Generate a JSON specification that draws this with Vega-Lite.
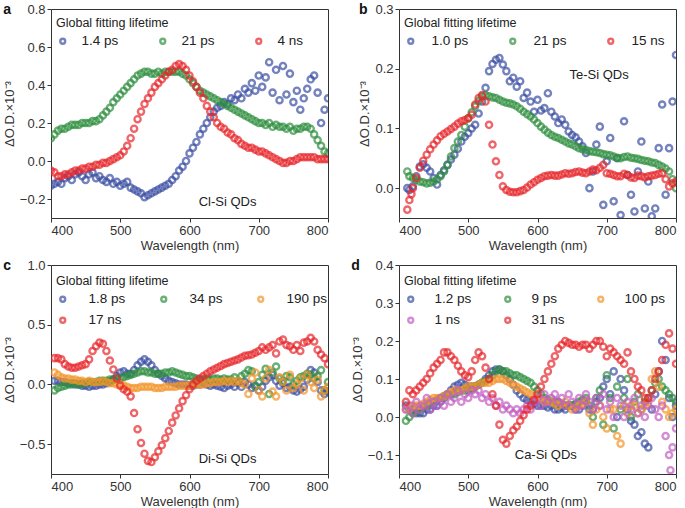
{
"$schema":"https://vega.github.io/schema/vega-lite/v6.json",
"background":"white",
"padding":{"left":2,"top":2,"right":12,"bottom":4},
"config":{
 "font":"Liberation Sans",
 "view":{"stroke":"#333","strokeWidth":1},
 "axis":{"grid":false,"domain":false,"tickColor":"#333","tickSize":4,"labelFontSize":13,"labelColor":"#333","labelPadding":2,"titleFontSize":13,"titleFontWeight":"normal","titleColor":"#333"},
 "axisY":{"titlePadding":3},
 "axisX":{"titlePadding":2},
 "legend":{"orient":"none","direction":"horizontal","columns":3,"titleFontSize":12.5,"titleFontWeight":"normal","titleColor":"#222","labelFontSize":13.5,"labelColor":"#222","symbolSize":24,"symbolStrokeWidth":2.4,"rowPadding":6,"titlePadding":5,"symbolType":"circle"},
 "title":{"fontSize":14,"fontWeight":"bold","anchor":"start","frame":"bounds","offset":-14,"color":"#111"},
 "point":{"filled":false,"strokeWidth":2.4,"size":38}
},
"datasets":{
"a1":[{"x":400,"y":-0.13},{"x":405,"y":-0.12},{"x":410,"y":-0.11},{"x":415,"y":-0.12},{"x":420,"y":-0.09},{"x":425,"y":-0.08},{"x":430,"y":-0.1},{"x":435,"y":-0.07},{"x":440,"y":-0.06},{"x":445,"y":-0.08},{"x":450,"y":-0.1},{"x":455,"y":-0.07},{"x":460,"y":-0.06},{"x":465,"y":-0.09},{"x":470,"y":-0.08},{"x":475,"y":-0.1},{"x":480,"y":-0.11},{"x":485,"y":-0.09},{"x":490,"y":-0.12},{"x":495,"y":-0.11},{"x":500,"y":-0.13},{"x":505,"y":-0.12},{"x":510,"y":-0.11},{"x":515,"y":-0.14},{"x":520,"y":-0.15},{"x":525,"y":-0.16},{"x":530,"y":-0.17},{"x":535,"y":-0.19},{"x":540,"y":-0.18},{"x":545,"y":-0.17},{"x":550,"y":-0.16},{"x":555,"y":-0.15},{"x":560,"y":-0.14},{"x":565,"y":-0.13},{"x":570,"y":-0.12},{"x":575,"y":-0.1},{"x":580,"y":-0.08},{"x":585,"y":-0.05},{"x":590,"y":-0.03},{"x":595,"y":0.0},{"x":600,"y":0.04},{"x":605,"y":0.07},{"x":610,"y":0.1},{"x":615,"y":0.14},{"x":620,"y":0.17},{"x":625,"y":0.2},{"x":630,"y":0.23},{"x":635,"y":0.26},{"x":640,"y":0.28},{"x":645,"y":0.29},{"x":650,"y":0.31},{"x":655,"y":0.3},{"x":660,"y":0.33},{"x":665,"y":0.32},{"x":670,"y":0.35},{"x":675,"y":0.33},{"x":680,"y":0.38},{"x":685,"y":0.36},{"x":690,"y":0.41},{"x":695,"y":0.37},{"x":700,"y":0.45},{"x":705,"y":0.39},{"x":710,"y":0.44},{"x":715,"y":0.52},{"x":720,"y":0.36},{"x":725,"y":0.48},{"x":730,"y":0.32},{"x":735,"y":0.5},{"x":740,"y":0.35},{"x":745,"y":0.46},{"x":750,"y":0.31},{"x":755,"y":0.37},{"x":760,"y":0.27},{"x":765,"y":0.33},{"x":770,"y":0.38},{"x":775,"y":0.43},{"x":780,"y":0.45},{"x":785,"y":0.36},{"x":790,"y":0.2},{"x":795,"y":0.27},{"x":800,"y":0.33}],
"a2":[{"x":400,"y":0.12},{"x":405,"y":0.14},{"x":410,"y":0.16},{"x":415,"y":0.17},{"x":420,"y":0.17},{"x":425,"y":0.18},{"x":430,"y":0.19},{"x":435,"y":0.19},{"x":440,"y":0.19},{"x":445,"y":0.2},{"x":450,"y":0.2},{"x":455,"y":0.2},{"x":460,"y":0.21},{"x":465,"y":0.21},{"x":470,"y":0.22},{"x":475,"y":0.24},{"x":480,"y":0.26},{"x":485,"y":0.28},{"x":490,"y":0.31},{"x":495,"y":0.33},{"x":500,"y":0.35},{"x":505,"y":0.37},{"x":510,"y":0.39},{"x":515,"y":0.41},{"x":520,"y":0.43},{"x":525,"y":0.45},{"x":530,"y":0.46},{"x":535,"y":0.47},{"x":540,"y":0.47},{"x":545,"y":0.46},{"x":550,"y":0.46},{"x":555,"y":0.47},{"x":560,"y":0.46},{"x":565,"y":0.47},{"x":570,"y":0.47},{"x":575,"y":0.47},{"x":580,"y":0.47},{"x":585,"y":0.47},{"x":590,"y":0.46},{"x":595,"y":0.45},{"x":600,"y":0.43},{"x":605,"y":0.41},{"x":610,"y":0.39},{"x":615,"y":0.37},{"x":620,"y":0.36},{"x":625,"y":0.35},{"x":630,"y":0.34},{"x":635,"y":0.33},{"x":640,"y":0.32},{"x":645,"y":0.31},{"x":650,"y":0.3},{"x":655,"y":0.29},{"x":660,"y":0.28},{"x":665,"y":0.27},{"x":670,"y":0.26},{"x":675,"y":0.25},{"x":680,"y":0.24},{"x":685,"y":0.23},{"x":690,"y":0.22},{"x":695,"y":0.21},{"x":700,"y":0.2},{"x":705,"y":0.2},{"x":710,"y":0.19},{"x":715,"y":0.2},{"x":720,"y":0.18},{"x":725,"y":0.19},{"x":730,"y":0.18},{"x":735,"y":0.18},{"x":740,"y":0.17},{"x":745,"y":0.18},{"x":750,"y":0.16},{"x":755,"y":0.17},{"x":760,"y":0.17},{"x":765,"y":0.18},{"x":770,"y":0.18},{"x":775,"y":0.17},{"x":780,"y":0.14},{"x":785,"y":0.11},{"x":790,"y":0.08},{"x":795,"y":0.05},{"x":800,"y":0.04}],
"a3":[{"x":400,"y":-0.05},{"x":405,"y":-0.06},{"x":410,"y":-0.08},{"x":415,"y":-0.08},{"x":420,"y":-0.07},{"x":425,"y":-0.07},{"x":430,"y":-0.06},{"x":435,"y":-0.05},{"x":440,"y":-0.05},{"x":445,"y":-0.04},{"x":450,"y":-0.04},{"x":455,"y":-0.03},{"x":460,"y":-0.03},{"x":465,"y":-0.02},{"x":470,"y":-0.02},{"x":475,"y":-0.01},{"x":480,"y":-0.01},{"x":485,"y":0.0},{"x":490,"y":0.01},{"x":495,"y":0.02},{"x":500,"y":0.03},{"x":505,"y":0.05},{"x":510,"y":0.08},{"x":515,"y":0.12},{"x":520,"y":0.17},{"x":525,"y":0.22},{"x":530,"y":0.26},{"x":535,"y":0.3},{"x":540,"y":0.33},{"x":545,"y":0.36},{"x":550,"y":0.39},{"x":555,"y":0.41},{"x":560,"y":0.43},{"x":565,"y":0.45},{"x":570,"y":0.47},{"x":575,"y":0.48},{"x":580,"y":0.5},{"x":585,"y":0.51},{"x":590,"y":0.5},{"x":595,"y":0.48},{"x":600,"y":0.45},{"x":605,"y":0.42},{"x":610,"y":0.39},{"x":615,"y":0.36},{"x":620,"y":0.33},{"x":625,"y":0.29},{"x":630,"y":0.26},{"x":635,"y":0.23},{"x":640,"y":0.2},{"x":645,"y":0.18},{"x":650,"y":0.17},{"x":655,"y":0.15},{"x":660,"y":0.14},{"x":665,"y":0.12},{"x":670,"y":0.11},{"x":675,"y":0.09},{"x":680,"y":0.08},{"x":685,"y":0.07},{"x":690,"y":0.07},{"x":695,"y":0.06},{"x":700,"y":0.05},{"x":705,"y":0.05},{"x":710,"y":0.04},{"x":715,"y":0.03},{"x":720,"y":0.02},{"x":725,"y":0.01},{"x":730,"y":0.0},{"x":735,"y":-0.01},{"x":740,"y":-0.01},{"x":745,"y":0.0},{"x":750,"y":0.0},{"x":755,"y":0.01},{"x":760,"y":0.02},{"x":765,"y":0.02},{"x":770,"y":0.02},{"x":775,"y":0.02},{"x":780,"y":0.02},{"x":785,"y":0.01},{"x":790,"y":0.01},{"x":795,"y":0.01},{"x":800,"y":0.01}],
"b1":[{"x":412,"y":0.0},{"x":415,"y":-0.003},{"x":420,"y":0.003},{"x":425,"y":0.02},{"x":430,"y":0.036},{"x":435,"y":0.04},{"x":440,"y":0.034},{"x":445,"y":0.028},{"x":450,"y":0.017},{"x":455,"y":0.006},{"x":460,"y":0.022},{"x":465,"y":0.03},{"x":470,"y":0.039},{"x":475,"y":0.048},{"x":480,"y":0.056},{"x":485,"y":0.066},{"x":490,"y":0.078},{"x":495,"y":0.086},{"x":500,"y":0.092},{"x":505,"y":0.1},{"x":510,"y":0.106},{"x":515,"y":0.125},{"x":520,"y":0.145},{"x":525,"y":0.168},{"x":530,"y":0.196},{"x":535,"y":0.208},{"x":540,"y":0.215},{"x":545,"y":0.218},{"x":550,"y":0.207},{"x":555,"y":0.196},{"x":560,"y":0.179},{"x":565,"y":0.185},{"x":570,"y":0.17},{"x":575,"y":0.179},{"x":580,"y":0.151},{"x":585,"y":0.16},{"x":590,"y":0.145},{"x":595,"y":0.128},{"x":600,"y":0.148},{"x":605,"y":0.13},{"x":610,"y":0.134},{"x":615,"y":0.159},{"x":620,"y":0.128},{"x":625,"y":0.12},{"x":630,"y":0.109},{"x":635,"y":0.115},{"x":640,"y":0.106},{"x":645,"y":0.095},{"x":650,"y":0.089},{"x":655,"y":0.085},{"x":660,"y":0.078},{"x":665,"y":0.07},{"x":670,"y":0.059},{"x":675,"y":0.0},{"x":680,"y":0.028},{"x":685,"y":0.073},{"x":690,"y":0.103},{"x":695,"y":-0.028},{"x":700,"y":0.045},{"x":705,"y":0.084},{"x":710,"y":-0.022},{"x":715,"y":0.05},{"x":720,"y":-0.045},{"x":725,"y":0.112},{"x":730,"y":0.022},{"x":735,"y":-0.011},{"x":740,"y":-0.039},{"x":745,"y":0.028},{"x":750,"y":0.078},{"x":755,"y":-0.034},{"x":760,"y":0.011},{"x":765,"y":-0.047},{"x":770,"y":-0.034},{"x":775,"y":0.067},{"x":780,"y":0.14},{"x":785,"y":-0.011},{"x":790,"y":0.067},{"x":795,"y":0.145},{"x":800,"y":0.223}],
"b2":[{"x":412,"y":0.028},{"x":415,"y":0.02},{"x":420,"y":0.017},{"x":425,"y":0.014},{"x":430,"y":0.011},{"x":435,"y":0.01},{"x":440,"y":0.008},{"x":445,"y":0.009},{"x":450,"y":0.011},{"x":455,"y":0.015},{"x":460,"y":0.02},{"x":465,"y":0.028},{"x":470,"y":0.039},{"x":475,"y":0.053},{"x":480,"y":0.067},{"x":485,"y":0.078},{"x":490,"y":0.089},{"x":495,"y":0.103},{"x":500,"y":0.117},{"x":505,"y":0.127},{"x":510,"y":0.137},{"x":515,"y":0.146},{"x":520,"y":0.154},{"x":525,"y":0.156},{"x":530,"y":0.154},{"x":535,"y":0.152},{"x":540,"y":0.151},{"x":545,"y":0.148},{"x":550,"y":0.145},{"x":555,"y":0.143},{"x":560,"y":0.142},{"x":565,"y":0.14},{"x":570,"y":0.137},{"x":575,"y":0.133},{"x":580,"y":0.128},{"x":585,"y":0.124},{"x":590,"y":0.12},{"x":595,"y":0.115},{"x":600,"y":0.109},{"x":605,"y":0.103},{"x":610,"y":0.098},{"x":615,"y":0.093},{"x":620,"y":0.089},{"x":625,"y":0.086},{"x":630,"y":0.084},{"x":635,"y":0.081},{"x":640,"y":0.078},{"x":645,"y":0.075},{"x":650,"y":0.073},{"x":655,"y":0.07},{"x":660,"y":0.067},{"x":665,"y":0.065},{"x":670,"y":0.064},{"x":675,"y":0.062},{"x":680,"y":0.061},{"x":685,"y":0.06},{"x":690,"y":0.059},{"x":695,"y":0.057},{"x":700,"y":0.056},{"x":705,"y":0.055},{"x":710,"y":0.053},{"x":715,"y":0.051},{"x":720,"y":0.05},{"x":725,"y":0.052},{"x":730,"y":0.053},{"x":735,"y":0.051},{"x":740,"y":0.05},{"x":745,"y":0.049},{"x":750,"y":0.047},{"x":755,"y":0.046},{"x":760,"y":0.045},{"x":765,"y":0.043},{"x":770,"y":0.042},{"x":775,"y":0.039},{"x":780,"y":0.036},{"x":785,"y":0.033},{"x":790,"y":0.028},{"x":795,"y":0.015},{"x":800,"y":0.0}],
"b3":[{"x":412,"y":-0.036},{"x":415,"y":-0.02},{"x":418,"y":-0.01},{"x":420,"y":0.0},{"x":425,"y":0.017},{"x":430,"y":0.034},{"x":435,"y":0.046},{"x":440,"y":0.056},{"x":445,"y":0.065},{"x":450,"y":0.073},{"x":455,"y":0.08},{"x":460,"y":0.087},{"x":465,"y":0.091},{"x":470,"y":0.095},{"x":475,"y":0.099},{"x":480,"y":0.103},{"x":485,"y":0.108},{"x":490,"y":0.112},{"x":495,"y":0.114},{"x":500,"y":0.117},{"x":505,"y":0.123},{"x":510,"y":0.14},{"x":515,"y":0.151},{"x":520,"y":0.156},{"x":525,"y":0.145},{"x":530,"y":0.106},{"x":535,"y":0.073},{"x":540,"y":0.045},{"x":545,"y":0.022},{"x":550,"y":0.003},{"x":555,"y":-0.003},{"x":560,"y":-0.006},{"x":565,"y":-0.007},{"x":570,"y":-0.007},{"x":575,"y":-0.005},{"x":580,"y":-0.003},{"x":585,"y":0.001},{"x":590,"y":0.006},{"x":595,"y":0.01},{"x":600,"y":0.014},{"x":605,"y":0.017},{"x":610,"y":0.02},{"x":615,"y":0.021},{"x":620,"y":0.022},{"x":625,"y":0.021},{"x":630,"y":0.021},{"x":635,"y":0.023},{"x":640,"y":0.025},{"x":645,"y":0.024},{"x":650,"y":0.025},{"x":655,"y":0.027},{"x":660,"y":0.028},{"x":665,"y":0.026},{"x":670,"y":0.025},{"x":675,"y":0.028},{"x":680,"y":0.031},{"x":685,"y":0.03},{"x":690,"y":0.034},{"x":695,"y":0.039},{"x":700,"y":0.025},{"x":705,"y":0.024},{"x":710,"y":0.022},{"x":715,"y":0.02},{"x":720,"y":0.02},{"x":725,"y":0.024},{"x":730,"y":0.022},{"x":735,"y":0.018},{"x":740,"y":0.017},{"x":745,"y":0.021},{"x":750,"y":0.02},{"x":755,"y":0.018},{"x":760,"y":0.02},{"x":765,"y":0.021},{"x":770,"y":0.022},{"x":775,"y":0.024},{"x":780,"y":0.025},{"x":785,"y":0.015},{"x":790,"y":0.003},{"x":795,"y":0.008},{"x":800,"y":0.011}],
"c1":[{"x":405,"y":0.03},{"x":410,"y":0.03},{"x":415,"y":0.02},{"x":420,"y":0.02},{"x":425,"y":0.01},{"x":430,"y":0.01},{"x":435,"y":0.0},{"x":440,"y":0.0},{"x":445,"y":-0.01},{"x":450,"y":-0.01},{"x":455,"y":-0.02},{"x":460,"y":-0.01},{"x":465,"y":-0.01},{"x":470,"y":0.0},{"x":475,"y":0.0},{"x":480,"y":0.01},{"x":485,"y":0.02},{"x":490,"y":0.04},{"x":495,"y":0.07},{"x":500,"y":0.1},{"x":505,"y":0.11},{"x":510,"y":0.09},{"x":515,"y":0.09},{"x":520,"y":0.12},{"x":525,"y":0.16},{"x":530,"y":0.19},{"x":535,"y":0.21},{"x":540,"y":0.19},{"x":545,"y":0.16},{"x":550,"y":0.12},{"x":555,"y":0.09},{"x":560,"y":0.07},{"x":565,"y":0.05},{"x":570,"y":0.03},{"x":575,"y":0.02},{"x":580,"y":0.01},{"x":585,"y":0.0},{"x":590,"y":0.0},{"x":595,"y":0.0},{"x":600,"y":-0.01},{"x":605,"y":-0.01},{"x":610,"y":0.0},{"x":615,"y":0.0},{"x":620,"y":0.01},{"x":625,"y":0.0},{"x":630,"y":-0.01},{"x":635,"y":0.0},{"x":640,"y":-0.01},{"x":645,"y":-0.02},{"x":650,"y":-0.03},{"x":655,"y":-0.01},{"x":660,"y":0.0},{"x":665,"y":-0.02},{"x":670,"y":0.01},{"x":675,"y":-0.02},{"x":680,"y":0.02},{"x":685,"y":0.0},{"x":690,"y":-0.03},{"x":695,"y":-0.01},{"x":700,"y":-0.05},{"x":705,"y":-0.02},{"x":710,"y":0.03},{"x":715,"y":0.06},{"x":720,"y":0.08},{"x":725,"y":0.03},{"x":730,"y":-0.01},{"x":735,"y":0.01},{"x":740,"y":-0.03},{"x":745,"y":-0.02},{"x":750,"y":-0.05},{"x":755,"y":-0.06},{"x":760,"y":-0.04},{"x":765,"y":-0.02},{"x":770,"y":0.04},{"x":775,"y":0.12},{"x":780,"y":0.1},{"x":785,"y":0.02},{"x":790,"y":-0.05},{"x":795,"y":-0.08},{"x":800,"y":-0.06}],
"c2":[{"x":405,"y":-0.05},{"x":410,"y":-0.03},{"x":415,"y":-0.02},{"x":420,"y":-0.01},{"x":425,"y":0.0},{"x":430,"y":0.0},{"x":435,"y":0.01},{"x":440,"y":0.0},{"x":445,"y":0.01},{"x":450,"y":0.01},{"x":455,"y":0.02},{"x":460,"y":0.02},{"x":465,"y":0.02},{"x":470,"y":0.03},{"x":475,"y":0.03},{"x":480,"y":0.03},{"x":485,"y":0.04},{"x":490,"y":0.04},{"x":495,"y":0.05},{"x":500,"y":0.05},{"x":505,"y":0.06},{"x":510,"y":0.07},{"x":515,"y":0.08},{"x":520,"y":0.09},{"x":525,"y":0.1},{"x":530,"y":0.11},{"x":535,"y":0.11},{"x":540,"y":0.1},{"x":545,"y":0.1},{"x":550,"y":0.09},{"x":555,"y":0.09},{"x":560,"y":0.09},{"x":565,"y":0.1},{"x":570,"y":0.1},{"x":575,"y":0.11},{"x":580,"y":0.1},{"x":585,"y":0.09},{"x":590,"y":0.08},{"x":595,"y":0.07},{"x":600,"y":0.07},{"x":605,"y":0.06},{"x":610,"y":0.05},{"x":615,"y":0.04},{"x":620,"y":0.04},{"x":625,"y":0.05},{"x":630,"y":0.04},{"x":635,"y":0.05},{"x":640,"y":0.05},{"x":645,"y":0.04},{"x":650,"y":0.05},{"x":655,"y":0.04},{"x":660,"y":0.04},{"x":665,"y":0.06},{"x":670,"y":0.03},{"x":675,"y":0.07},{"x":680,"y":0.09},{"x":685,"y":0.12},{"x":690,"y":0.11},{"x":695,"y":-0.02},{"x":700,"y":0.02},{"x":705,"y":0.08},{"x":710,"y":0.13},{"x":715,"y":-0.08},{"x":720,"y":0.1},{"x":725,"y":0.15},{"x":730,"y":0.05},{"x":735,"y":0.03},{"x":740,"y":0.07},{"x":745,"y":0.06},{"x":750,"y":0.0},{"x":755,"y":0.03},{"x":760,"y":0.06},{"x":765,"y":0.07},{"x":770,"y":0.09},{"x":775,"y":0.08},{"x":780,"y":0.05},{"x":785,"y":0.07},{"x":790,"y":0.12},{"x":795,"y":-0.05},{"x":800,"y":0.02}],
"c3":[{"x":405,"y":0.1},{"x":410,"y":0.08},{"x":415,"y":0.06},{"x":420,"y":0.05},{"x":425,"y":0.05},{"x":430,"y":0.04},{"x":435,"y":0.04},{"x":440,"y":0.03},{"x":445,"y":0.03},{"x":450,"y":0.02},{"x":455,"y":0.03},{"x":460,"y":0.02},{"x":465,"y":0.02},{"x":470,"y":0.02},{"x":475,"y":0.03},{"x":480,"y":0.02},{"x":485,"y":0.01},{"x":490,"y":0.01},{"x":495,"y":0.0},{"x":500,"y":0.0},{"x":505,"y":-0.01},{"x":510,"y":-0.02},{"x":515,"y":-0.03},{"x":520,"y":-0.03},{"x":525,"y":-0.03},{"x":530,"y":-0.02},{"x":535,"y":-0.02},{"x":540,"y":-0.02},{"x":545,"y":-0.02},{"x":550,"y":-0.03},{"x":555,"y":-0.03},{"x":560,"y":-0.03},{"x":565,"y":-0.02},{"x":570,"y":-0.02},{"x":575,"y":-0.02},{"x":580,"y":-0.02},{"x":585,"y":-0.01},{"x":590,"y":-0.01},{"x":595,"y":-0.01},{"x":600,"y":-0.01},{"x":605,"y":0.0},{"x":610,"y":0.0},{"x":615,"y":0.0},{"x":620,"y":0.0},{"x":625,"y":0.01},{"x":630,"y":0.01},{"x":635,"y":0.02},{"x":640,"y":0.02},{"x":645,"y":0.02},{"x":650,"y":0.03},{"x":655,"y":0.02},{"x":660,"y":0.03},{"x":665,"y":0.02},{"x":670,"y":0.03},{"x":675,"y":0.01},{"x":680,"y":0.0},{"x":685,"y":-0.08},{"x":690,"y":0.05},{"x":695,"y":0.1},{"x":700,"y":-0.05},{"x":705,"y":-0.1},{"x":710,"y":0.05},{"x":715,"y":0.12},{"x":720,"y":-0.06},{"x":725,"y":-0.1},{"x":730,"y":0.06},{"x":735,"y":0.02},{"x":740,"y":-0.05},{"x":745,"y":0.08},{"x":750,"y":-0.03},{"x":755,"y":0.0},{"x":760,"y":0.05},{"x":765,"y":-0.05},{"x":770,"y":0.08},{"x":775,"y":0.02},{"x":780,"y":-0.03},{"x":785,"y":0.04},{"x":790,"y":-0.1},{"x":795,"y":-0.05},{"x":800,"y":-0.02}],
"c4":[{"x":405,"y":0.22},{"x":410,"y":0.22},{"x":415,"y":0.21},{"x":420,"y":0.17},{"x":425,"y":0.15},{"x":430,"y":0.14},{"x":435,"y":0.14},{"x":440,"y":0.15},{"x":445,"y":0.16},{"x":450,"y":0.17},{"x":455,"y":0.21},{"x":460,"y":0.28},{"x":465,"y":0.32},{"x":470,"y":0.35},{"x":475,"y":0.34},{"x":480,"y":0.28},{"x":485,"y":0.2},{"x":490,"y":0.125},{"x":495,"y":0.05},{"x":500,"y":-0.01},{"x":505,"y":-0.04},{"x":510,"y":-0.06},{"x":515,"y":-0.1},{"x":520,"y":-0.24},{"x":525,"y":-0.375},{"x":530,"y":-0.49},{"x":535,"y":-0.58},{"x":540,"y":-0.64},{"x":545,"y":-0.65},{"x":550,"y":-0.61},{"x":555,"y":-0.56},{"x":560,"y":-0.51},{"x":565,"y":-0.45},{"x":570,"y":-0.39},{"x":575,"y":-0.32},{"x":580,"y":-0.26},{"x":585,"y":-0.2},{"x":590,"y":-0.14},{"x":595,"y":-0.09},{"x":600,"y":-0.04},{"x":605,"y":0.0},{"x":610,"y":0.03},{"x":615,"y":0.05},{"x":620,"y":0.07},{"x":625,"y":0.09},{"x":630,"y":0.11},{"x":635,"y":0.125},{"x":640,"y":0.14},{"x":645,"y":0.155},{"x":650,"y":0.17},{"x":655,"y":0.18},{"x":660,"y":0.19},{"x":665,"y":0.2},{"x":670,"y":0.21},{"x":675,"y":0.225},{"x":680,"y":0.24},{"x":685,"y":0.245},{"x":690,"y":0.25},{"x":695,"y":0.265},{"x":700,"y":0.28},{"x":705,"y":0.31},{"x":710,"y":0.29},{"x":715,"y":0.31},{"x":720,"y":0.33},{"x":725,"y":0.26},{"x":730,"y":0.36},{"x":735,"y":0.375},{"x":740,"y":0.33},{"x":745,"y":0.32},{"x":750,"y":0.29},{"x":755,"y":0.33},{"x":760,"y":0.28},{"x":765,"y":0.35},{"x":770,"y":0.36},{"x":775,"y":0.39},{"x":780,"y":0.36},{"x":785,"y":0.29},{"x":790,"y":0.25},{"x":795,"y":0.22},{"x":800,"y":0.17}],
"d1":[{"x":410,"y":0.03},{"x":415,"y":0.02},{"x":420,"y":0.02},{"x":425,"y":0.01},{"x":430,"y":0.01},{"x":435,"y":0.01},{"x":440,"y":0.02},{"x":445,"y":0.02},{"x":450,"y":0.03},{"x":455,"y":0.03},{"x":460,"y":0.04},{"x":465,"y":0.05},{"x":470,"y":0.06},{"x":475,"y":0.07},{"x":480,"y":0.08},{"x":485,"y":0.085},{"x":490,"y":0.09},{"x":495,"y":0.085},{"x":500,"y":0.08},{"x":505,"y":0.08},{"x":510,"y":0.08},{"x":515,"y":0.085},{"x":520,"y":0.09},{"x":525,"y":0.1},{"x":530,"y":0.11},{"x":535,"y":0.12},{"x":540,"y":0.125},{"x":545,"y":0.125},{"x":550,"y":0.12},{"x":555,"y":0.11},{"x":560,"y":0.1},{"x":565,"y":0.085},{"x":570,"y":0.07},{"x":575,"y":0.06},{"x":580,"y":0.05},{"x":585,"y":0.045},{"x":590,"y":0.04},{"x":595,"y":0.035},{"x":600,"y":0.03},{"x":605,"y":0.03},{"x":610,"y":0.03},{"x":615,"y":0.025},{"x":620,"y":0.03},{"x":625,"y":0.02},{"x":630,"y":0.02},{"x":635,"y":0.025},{"x":640,"y":0.02},{"x":645,"y":0.03},{"x":650,"y":0.03},{"x":655,"y":0.02},{"x":660,"y":0.02},{"x":665,"y":0.03},{"x":670,"y":0.04},{"x":675,"y":0.02},{"x":680,"y":0.02},{"x":685,"y":0.04},{"x":690,"y":0.05},{"x":695,"y":0.08},{"x":700,"y":0.1},{"x":705,"y":0.06},{"x":710,"y":0.12},{"x":715,"y":0.0},{"x":720,"y":0.1},{"x":725,"y":0.07},{"x":730,"y":0.02},{"x":735,"y":-0.01},{"x":740,"y":-0.02},{"x":745,"y":-0.05},{"x":750,"y":-0.04},{"x":755,"y":-0.07},{"x":760,"y":-0.08},{"x":765,"y":0.02},{"x":770,"y":0.06},{"x":775,"y":0.12},{"x":780,"y":0.2},{"x":785,"y":0.15},{"x":790,"y":0.05},{"x":795,"y":0.0},{"x":800,"y":0.03}],
"d2":[{"x":410,"y":-0.01},{"x":415,"y":0.0},{"x":420,"y":0.01},{"x":425,"y":0.015},{"x":430,"y":0.02},{"x":435,"y":0.025},{"x":440,"y":0.03},{"x":445,"y":0.035},{"x":450,"y":0.04},{"x":455,"y":0.045},{"x":460,"y":0.05},{"x":465,"y":0.055},{"x":470,"y":0.06},{"x":475,"y":0.06},{"x":480,"y":0.06},{"x":485,"y":0.065},{"x":490,"y":0.07},{"x":495,"y":0.07},{"x":500,"y":0.07},{"x":505,"y":0.075},{"x":510,"y":0.08},{"x":515,"y":0.085},{"x":520,"y":0.09},{"x":525,"y":0.095},{"x":530,"y":0.1},{"x":535,"y":0.11},{"x":540,"y":0.12},{"x":545,"y":0.125},{"x":550,"y":0.12},{"x":555,"y":0.12},{"x":560,"y":0.115},{"x":565,"y":0.11},{"x":570,"y":0.11},{"x":575,"y":0.105},{"x":580,"y":0.1},{"x":585,"y":0.095},{"x":590,"y":0.09},{"x":595,"y":0.08},{"x":600,"y":0.07},{"x":605,"y":0.06},{"x":610,"y":0.05},{"x":615,"y":0.045},{"x":620,"y":0.04},{"x":625,"y":0.04},{"x":630,"y":0.04},{"x":635,"y":0.035},{"x":640,"y":0.03},{"x":645,"y":0.03},{"x":650,"y":0.03},{"x":655,"y":0.035},{"x":660,"y":0.04},{"x":665,"y":0.045},{"x":670,"y":0.05},{"x":675,"y":0.03},{"x":680,"y":0.0},{"x":685,"y":0.05},{"x":690,"y":0.07},{"x":695,"y":-0.02},{"x":700,"y":0.11},{"x":705,"y":0.05},{"x":710,"y":-0.03},{"x":715,"y":0.08},{"x":720,"y":0.02},{"x":725,"y":0.05},{"x":730,"y":0.1},{"x":735,"y":0.0},{"x":740,"y":0.04},{"x":745,"y":0.06},{"x":750,"y":0.02},{"x":755,"y":0.04},{"x":760,"y":0.05},{"x":765,"y":0.07},{"x":770,"y":0.09},{"x":775,"y":0.1},{"x":780,"y":0.08},{"x":785,"y":0.07},{"x":790,"y":0.06},{"x":795,"y":0.05},{"x":800,"y":0.04}],
"d3":[{"x":410,"y":0.02},{"x":415,"y":0.02},{"x":420,"y":0.03},{"x":425,"y":0.03},{"x":430,"y":0.03},{"x":435,"y":0.035},{"x":440,"y":0.04},{"x":445,"y":0.045},{"x":450,"y":0.05},{"x":455,"y":0.05},{"x":460,"y":0.05},{"x":465,"y":0.055},{"x":470,"y":0.06},{"x":475,"y":0.065},{"x":480,"y":0.07},{"x":485,"y":0.07},{"x":490,"y":0.07},{"x":495,"y":0.075},{"x":500,"y":0.08},{"x":505,"y":0.08},{"x":510,"y":0.08},{"x":515,"y":0.085},{"x":520,"y":0.09},{"x":525,"y":0.09},{"x":530,"y":0.09},{"x":535,"y":0.095},{"x":540,"y":0.1},{"x":545,"y":0.1},{"x":550,"y":0.1},{"x":555,"y":0.095},{"x":560,"y":0.09},{"x":565,"y":0.085},{"x":570,"y":0.08},{"x":575,"y":0.075},{"x":580,"y":0.07},{"x":585,"y":0.065},{"x":590,"y":0.06},{"x":595,"y":0.055},{"x":600,"y":0.05},{"x":605,"y":0.045},{"x":610,"y":0.04},{"x":615,"y":0.04},{"x":620,"y":0.04},{"x":625,"y":0.035},{"x":630,"y":0.03},{"x":635,"y":0.035},{"x":640,"y":0.04},{"x":645,"y":0.03},{"x":650,"y":0.02},{"x":655,"y":0.025},{"x":660,"y":0.03},{"x":665,"y":0.035},{"x":670,"y":0.04},{"x":675,"y":0.01},{"x":680,"y":-0.02},{"x":685,"y":0.02},{"x":690,"y":0.03},{"x":695,"y":0.0},{"x":700,"y":-0.03},{"x":705,"y":0.02},{"x":710,"y":0.02},{"x":715,"y":-0.05},{"x":720,"y":-0.07},{"x":725,"y":0.03},{"x":730,"y":0.01},{"x":735,"y":0.03},{"x":740,"y":0.03},{"x":745,"y":0.01},{"x":750,"y":0.02},{"x":755,"y":0.03},{"x":760,"y":0.04},{"x":765,"y":0.1},{"x":770,"y":0.12},{"x":775,"y":0.08},{"x":780,"y":0.04},{"x":785,"y":0.02},{"x":790,"y":0.0},{"x":795,"y":0.01},{"x":800,"y":0.02}],
"d4":[{"x":410,"y":0.02},{"x":415,"y":0.03},{"x":420,"y":0.01},{"x":425,"y":0.04},{"x":430,"y":0.02},{"x":435,"y":0.03},{"x":440,"y":0.05},{"x":445,"y":0.02},{"x":450,"y":0.04},{"x":455,"y":0.03},{"x":460,"y":0.05},{"x":465,"y":0.03},{"x":470,"y":0.06},{"x":475,"y":0.04},{"x":480,"y":0.05},{"x":485,"y":0.07},{"x":490,"y":0.04},{"x":495,"y":0.06},{"x":500,"y":0.05},{"x":505,"y":0.07},{"x":510,"y":0.06},{"x":515,"y":0.07},{"x":520,"y":0.05},{"x":525,"y":0.06},{"x":530,"y":0.04},{"x":535,"y":0.05},{"x":540,"y":0.03},{"x":545,"y":0.04},{"x":550,"y":0.02},{"x":555,"y":0.03},{"x":560,"y":0.02},{"x":565,"y":0.01},{"x":570,"y":0.02},{"x":575,"y":0.01},{"x":580,"y":0.02},{"x":585,"y":0.03},{"x":590,"y":0.02},{"x":595,"y":0.04},{"x":600,"y":0.05},{"x":605,"y":0.03},{"x":610,"y":0.06},{"x":615,"y":0.04},{"x":620,"y":0.05},{"x":625,"y":0.06},{"x":630,"y":0.04},{"x":635,"y":0.05},{"x":640,"y":0.03},{"x":645,"y":0.06},{"x":650,"y":0.04},{"x":655,"y":0.02},{"x":660,"y":0.05},{"x":665,"y":0.03},{"x":670,"y":0.06},{"x":675,"y":0.04},{"x":680,"y":0.02},{"x":685,"y":0.05},{"x":690,"y":0.03},{"x":695,"y":0.06},{"x":700,"y":0.02},{"x":705,"y":0.04},{"x":710,"y":0.0},{"x":715,"y":0.05},{"x":720,"y":0.03},{"x":725,"y":0.0},{"x":730,"y":0.04},{"x":735,"y":0.02},{"x":740,"y":0.05},{"x":745,"y":0.01},{"x":750,"y":0.03},{"x":755,"y":0.0},{"x":760,"y":0.03},{"x":765,"y":0.05},{"x":770,"y":0.02},{"x":775,"y":0.0},{"x":780,"y":0.03},{"x":785,"y":-0.05},{"x":790,"y":-0.1},{"x":792,"y":-0.14},{"x":795,"y":-0.08},{"x":800,"y":-0.03}],
"d5":[{"x":410,"y":0.04},{"x":415,"y":0.07},{"x":420,"y":0.06},{"x":425,"y":0.07},{"x":430,"y":0.08},{"x":435,"y":0.09},{"x":440,"y":0.1},{"x":445,"y":0.115},{"x":450,"y":0.13},{"x":455,"y":0.14},{"x":460,"y":0.15},{"x":465,"y":0.17},{"x":470,"y":0.17},{"x":475,"y":0.16},{"x":480,"y":0.15},{"x":485,"y":0.135},{"x":490,"y":0.12},{"x":495,"y":0.11},{"x":500,"y":0.105},{"x":505,"y":0.12},{"x":510,"y":0.15},{"x":515,"y":0.17},{"x":520,"y":0.16},{"x":525,"y":0.13},{"x":530,"y":0.1},{"x":535,"y":0.06},{"x":540,"y":0.03},{"x":545,"y":-0.02},{"x":550,"y":-0.06},{"x":555,"y":-0.07},{"x":560,"y":-0.05},{"x":565,"y":-0.035},{"x":570,"y":-0.025},{"x":575,"y":-0.01},{"x":580,"y":0.005},{"x":585,"y":0.02},{"x":590,"y":0.03},{"x":595,"y":0.045},{"x":600,"y":0.06},{"x":605,"y":0.08},{"x":610,"y":0.1},{"x":615,"y":0.12},{"x":620,"y":0.14},{"x":625,"y":0.16},{"x":630,"y":0.18},{"x":635,"y":0.19},{"x":640,"y":0.2},{"x":645,"y":0.195},{"x":650,"y":0.19},{"x":655,"y":0.19},{"x":660,"y":0.185},{"x":665,"y":0.19},{"x":670,"y":0.19},{"x":675,"y":0.18},{"x":680,"y":0.19},{"x":685,"y":0.2},{"x":690,"y":0.2},{"x":695,"y":0.185},{"x":700,"y":0.16},{"x":705,"y":0.18},{"x":710,"y":0.17},{"x":715,"y":0.16},{"x":720,"y":0.15},{"x":725,"y":0.14},{"x":730,"y":0.17},{"x":735,"y":0.12},{"x":740,"y":0.1},{"x":745,"y":0.08},{"x":750,"y":0.07},{"x":755,"y":0.05},{"x":760,"y":0.05},{"x":765,"y":0.07},{"x":770,"y":0.1},{"x":775,"y":0.12},{"x":780,"y":0.15},{"x":785,"y":0.19},{"x":790,"y":0.22},{"x":795,"y":0.18},{"x":800,"y":0.14}]
},
"columns":2,
"spacing":{"row":47,"column":71},
"bounds":"flush",
"resolve":{"scale":{"x":"independent","y":"independent","color":"independent"},"axis":{"x":"independent","y":"independent"},"legend":{"color":"independent"}},
"concat":[
{"width":277,"height":209,"title":{"text":"a"},
 "encoding":{"x":{"field":"x","type":"quantitative","scale":{"domain":[400,800]},"axis":{"values":[400,500,600,700,800],"title":"Wavelength (nm)"}},"y":{"field":"y","type":"quantitative","scale":{"domain":[-0.3,0.8]},"axis":{"values":[-0.2,0,0.2,0.4,0.6,0.8],"format":".1f","title":"ΔO.D.×10⁻³"}}},
 "layer":[
  {"data":{"name":"a1"},"mark":{"type":"point","clip":true},"encoding":{"color":{"datum":"1.4 ps","type":"nominal","scale":{"domain":["1.4 ps","21 ps","4 ns"],"range":["#3a4ea3","#2f8f3f","#e8262a"]},"legend":{"title":"Global fitting lifetime","legendX":5,"legendY":8,"labelOffset":12,"columnPadding":36}}}},
  {"data":{"name":"a2"},"mark":{"type":"point","clip":true},"encoding":{"color":{"datum":"21 ps","type":"nominal"}}},
  {"data":{"name":"a3"},"mark":{"type":"point","clip":true},"encoding":{"color":{"datum":"4 ns","type":"nominal"}}},
  {"data":{"values":[{"x":655,"y":-0.215,"t":"Cl-Si QDs"}]},"mark":{"type":"text","fontSize":13,"color":"#222"},"encoding":{"text":{"field":"t"}}}
 ]},
{"width":277,"height":209,"title":{"text":"b"},
 "encoding":{"x":{"field":"x","type":"quantitative","scale":{"domain":[400,800]},"axis":{"values":[400,500,600,700,800],"title":"Wavelength (nm)"}},"y":{"field":"y","type":"quantitative","scale":{"domain":[-0.05,0.3]},"axis":{"values":[0,0.1,0.2,0.3],"format":".1f","title":"ΔO.D.×10⁻³"}}},
 "layer":[
  {"data":{"name":"b1"},"mark":{"type":"point","clip":true},"encoding":{"color":{"datum":"1.0 ps","type":"nominal","scale":{"domain":["1.0 ps","21 ps","15 ns"],"range":["#3a4ea3","#2f8f3f","#e8262a"]},"legend":{"title":"Global fitting lifetime","legendX":5,"legendY":8,"labelOffset":14,"columnPadding":36}}}},
  {"data":{"name":"b2"},"mark":{"type":"point","clip":true},"encoding":{"color":{"datum":"21 ps","type":"nominal"}}},
  {"data":{"name":"b3"},"mark":{"type":"point","clip":true},"encoding":{"color":{"datum":"15 ns","type":"nominal"}}},
  {"data":{"values":[{"x":689,"y":0.19,"t":"Te-Si QDs"}]},"mark":{"type":"text","fontSize":13,"color":"#222"},"encoding":{"text":{"field":"t"}}}
 ]},
{"width":277,"height":209,"title":{"text":"c"},
 "encoding":{"x":{"field":"x","type":"quantitative","scale":{"domain":[400,800]},"axis":{"values":[400,500,600,700,800],"title":"Wavelength (nm)"}},"y":{"field":"y","type":"quantitative","scale":{"domain":[-0.75,1.0]},"axis":{"values":[-0.5,0,0.5,1.0],"format":".1f","title":"ΔO.D.×10⁻³"}}},
 "layer":[
  {"data":{"name":"c1"},"mark":{"type":"point","clip":true},"encoding":{"color":{"datum":"1.8 ps","type":"nominal","scale":{"domain":["1.8 ps","34 ps","190 ps","17 ns"],"range":["#3a4ea3","#2f8f3f","#f4952a","#e8262a"]},"legend":{"title":"Global fitting lifetime","legendX":5,"legendY":10,"labelOffset":19,"columnPadding":30}}}},
  {"data":{"name":"c2"},"mark":{"type":"point","clip":true},"encoding":{"color":{"datum":"34 ps","type":"nominal"}}},
  {"data":{"name":"c3"},"mark":{"type":"point","clip":true},"encoding":{"color":{"datum":"190 ps","type":"nominal"}}},
  {"data":{"name":"c4"},"mark":{"type":"point","clip":true},"encoding":{"color":{"datum":"17 ns","type":"nominal"}}},
  {"data":{"values":[{"x":655,"y":-0.625,"t":"Di-Si QDs"}]},"mark":{"type":"text","fontSize":13,"color":"#222"},"encoding":{"text":{"field":"t"}}}
 ]},
{"width":277,"height":209,"title":{"text":"d"},
 "encoding":{"x":{"field":"x","type":"quantitative","scale":{"domain":[400,800]},"axis":{"values":[400,500,600,700,800],"title":"Wavelength (nm)"}},"y":{"field":"y","type":"quantitative","scale":{"domain":[-0.15,0.4]},"axis":{"values":[-0.1,0,0.1,0.2,0.3,0.4],"format":".1f","title":"ΔO.D.×10⁻³"}}},
 "layer":[
  {"data":{"name":"d1"},"mark":{"type":"point","clip":true},"encoding":{"color":{"datum":"1.2 ps","type":"nominal","scale":{"domain":["1.2 ps","9 ps","100 ps","1 ns","31 ns"],"range":["#3a4ea3","#2f8f3f","#f4952a","#c35ec3","#e8262a"]},"legend":{"title":"Global fitting lifetime","legendX":5,"legendY":10,"labelOffset":17,"columnPadding":28}}}},
  {"data":{"name":"d2"},"mark":{"type":"point","clip":true},"encoding":{"color":{"datum":"9 ps","type":"nominal"}}},
  {"data":{"name":"d3"},"mark":{"type":"point","clip":true},"encoding":{"color":{"datum":"100 ps","type":"nominal"}}},
  {"data":{"name":"d4"},"mark":{"type":"point","clip":true},"encoding":{"color":{"datum":"1 ns","type":"nominal"}}},
  {"data":{"name":"d5"},"mark":{"type":"point","clip":true},"encoding":{"color":{"datum":"31 ns","type":"nominal"}}},
  {"data":{"values":[{"x":612,"y":-0.1,"t":"Ca-Si QDs"}]},"mark":{"type":"text","fontSize":13,"color":"#222"},"encoding":{"text":{"field":"t"}}}
 ]}
]
}
